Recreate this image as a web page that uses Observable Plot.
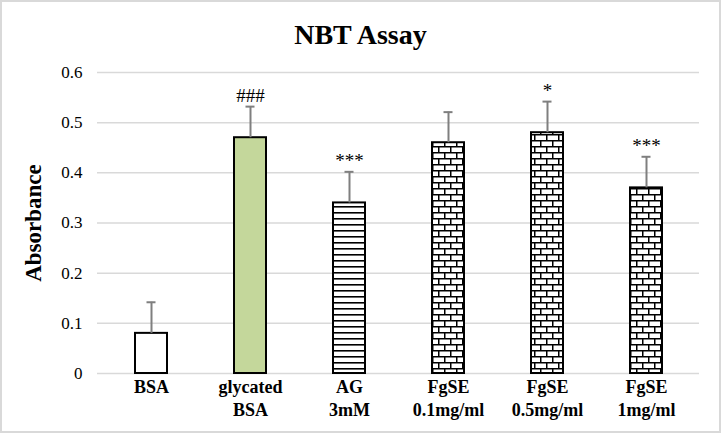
<!DOCTYPE html>
<html>
<head>
<meta charset="utf-8">
<script src="https://cdn.jsdelivr.net/npm/d3@7"></script>
<script src="https://cdn.jsdelivr.net/npm/@observablehq/plot@0.6"></script>
<style>
  html, body { margin: 0; padding: 0; background: #fff; }
  #wrap { position: relative; width: 721px; height: 433px; overflow: hidden; background: #fff; }
  #frame { position: absolute; left: 0; top: 0; width: 721px; height: 433px; box-sizing: border-box; border: 2px solid #d9d9d9; pointer-events: none; }
  #title { height: 56px; box-sizing: border-box; padding-top: 21px; line-height: 28px; text-align: center; font-family: "Liberation Serif", serif; font-weight: bold; font-size: 28px; color: #000; }
  #chart svg { display: block; }
</style>
</head>
<body>
<div id="wrap">
  <div id="title">NBT Assay</div>
  <div id="chart"></div>
  <div id="frame"></div>
</div>
<script>
const categories = ["BSA", "glycated\nBSA", "AG\n3mM", "FgSE\n0.1mg/ml", "FgSE\n0.5mg/ml", "FgSE\n1mg/ml"];
const values = [0.08, 0.47, 0.34, 0.46, 0.48, 0.37];
const errors = [0.062, 0.062, 0.062, 0.061, 0.062, 0.062];
const significance = ["", "###", "***", "", "*", "***"];
const yTicks = [0, 0.1, 0.2, 0.3, 0.4, 0.5, 0.6];
const yTickLabels = ["0", "0.1", "0.2", "0.3", "0.4", "0.5", "0.6"];

const fillFor = {
  "BSA": "#ffffff",
  "glycated\nBSA": "#c4d79b",
  "AG\n3mM": "url(#hstripe)",
  "FgSE\n0.1mg/ml": "url(#brick)",
  "FgSE\n0.5mg/ml": "url(#brick)",
  "FgSE\n1mg/ml": "url(#brick)"
};

const data = categories.map((c, i) => ({
  cat: c, value: values[i], err: errors[i], top: values[i] + errors[i], sig: significance[i], fill: fillFor[c]
}));

const plot = Plot.plot({
  width: 721,
  height: 377,
  marginTop: 16,
  marginBottom: 60,
  marginLeft: 97,
  marginRight: 22,
  style: { fontFamily: "Liberation Serif, serif", fontSize: "17px", color: "#000", background: "transparent" },
  x: { domain: categories, paddingInner: 0.68, paddingOuter: 0.35, label: null },
  y: { domain: [0, 0.6], label: null },
  color: { type: "identity" },
  marks: [
    Plot.gridY(yTicks, { stroke: "#d9d9d9", strokeOpacity: 1, strokeWidth: 1.5 }),
    Plot.axisY(yTicks, { tickSize: 0, tickPadding: 15, fontSize: 17, label: null, tickFormat: (d, i) => yTickLabels[i] }),
    Plot.axisX({ tickSize: 0, tickPadding: 3, fontSize: 18, fontWeight: "bold", lineHeight: 1.28, label: null }),
    Plot.barY(data, { x: "cat", y: "value", fill: "fill", stroke: "#000", strokeWidth: 2 }),
    Plot.ruleX(data, { x: "cat", y1: "value", y2: "top", stroke: "#7f7f7f", strokeWidth: 2 }),
    Plot.tickY(data, { x: "cat", y: "top", stroke: "#7f7f7f", strokeWidth: 2, insetLeft: 11.5, insetRight: 11.5 }),
    Plot.text(data, { x: "cat", y: "top", text: "sig", dy: -5, lineAnchor: "bottom", fontSize: 19, fill: "#000" }),
    Plot.text(["Absorbance"], { frameAnchor: "left", textAnchor: "middle", rotate: -90, dx: -64, fontSize: 23, fontWeight: "bold", fill: "#000" })
  ]
});

// patterns
const svg = d3.select(plot);
const defs = svg.insert("defs", ":first-child");
const hs = defs.append("pattern").attr("id", "hstripe").attr("patternUnits", "userSpaceOnUse").attr("width", 6).attr("height", 6);
hs.append("rect").attr("width", 6).attr("height", 6).attr("fill", "#fff");
hs.append("rect").attr("x", 0).attr("y", 0).attr("width", 6).attr("height", 1.6).attr("fill", "#000");
const br = defs.append("pattern").attr("id", "brick").attr("patternUnits", "userSpaceOnUse").attr("width", 12).attr("height", 12);
br.append("rect").attr("width", 12).attr("height", 12).attr("fill", "#fff");
br.append("rect").attr("x", 0).attr("y", 0).attr("width", 12).attr("height", 1.5).attr("fill", "#000");
br.append("rect").attr("x", 0).attr("y", 6).attr("width", 12).attr("height", 1.5).attr("fill", "#000");
br.append("rect").attr("x", 0).attr("y", 0).attr("width", 1.5).attr("height", 6).attr("fill", "#000");
br.append("rect").attr("x", 6).attr("y", 6).attr("width", 1.5).attr("height", 6).attr("fill", "#000");

document.getElementById("chart").appendChild(plot);
</script>
</body>
</html>
